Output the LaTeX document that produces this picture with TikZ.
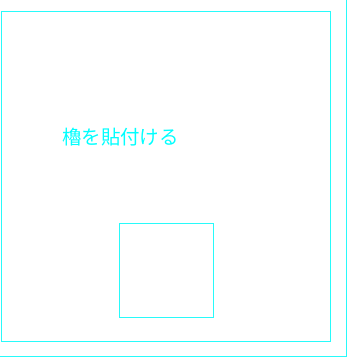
\documentclass[tikz,border=0pt]{standalone}
\usepackage{fontspec}
\newfontfamily\jpfont{Noto Sans CJK JP}
\definecolor{aqua}{RGB}{0,255,255}
\definecolor{aqualine}{RGB}{40,250,250}
\tikzset{
    edgeline/.style={draw=aqualine, line width=1.4pt},
    titletext/.style={text=aqua, font=\jpfont\fontsize{19.5}{21}\selectfont, inner sep=0pt}
}
\begin{document}
\begin{tikzpicture}[x=1pt,y=-1pt]
    \useasboundingbox (0,0) rectangle (347,359);

    % Outer edge
    \draw[edgeline] (346.7,0) -- (346.7,356.7) -- (0,356.7);

    % Sheet
    \draw[edgeline] (1.7,11.7) -- (330.7,11.7) -- (330.7,341.3) -- (1.7,341.3) -- cycle;

    % Tower
    \draw[edgeline] (119.7,223.7) -- (213.3,223.7) -- (213.3,317.3) -- (119.7,317.3) -- cycle;

    \node[titletext] (title) at (120.5,137) {櫓を貼付ける};
\end{tikzpicture}
\end{document}
